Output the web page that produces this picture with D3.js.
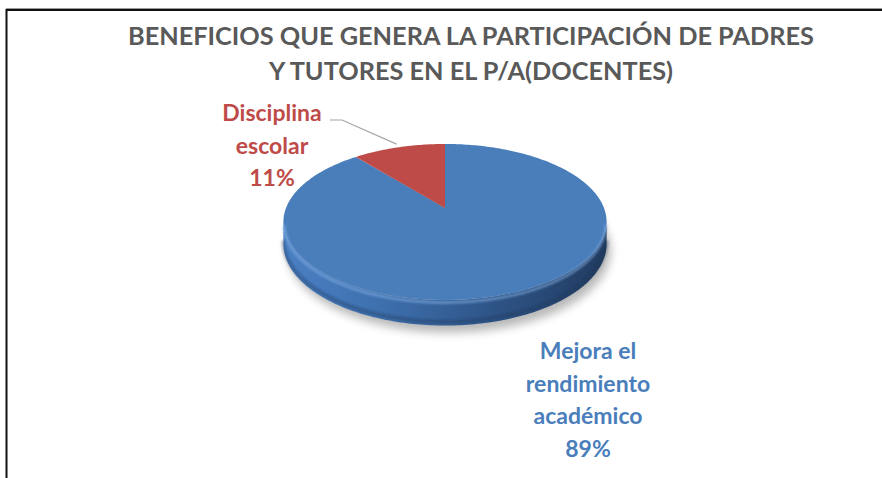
<!DOCTYPE html>
<html>
<head>
<meta charset="utf-8">
<script src="https://cdn.jsdelivr.net/npm/d3@7"></script>
<style>
  body { margin: 0; background: #fff; }
  svg { display: block; }
</style>
</head>
<body>
<svg width="882" height="478"></svg>
<script>
////////////////////////////// DATA //////////////////////////////

var titleLines = ['BENEFICIOS QUE GENERA LA PARTICIPACIÓN DE PADRES',
                  'Y TUTORES EN EL P/A(DOCENTES)'];
var categories = ['Mejora el rendimiento académico', 'Disciplina escolar'];
var values = [89, 11];
// label text, already broken into lines as in the picture
var labelLines = [['Mejora el', 'rendimiento', 'académico', '89%'],
                  ['Disciplina', 'escolar', '11%']];
var sliceColors = ['#4a7ebb', '#be4b48'];

////////////////////////////// VIS PARAMS //////////////////////////////

var svg = d3.select('svg'),
    width = +svg.attr('width'),
    height = +svg.attr('height');

// 3d pie: projected centre, half axes, perspective strength, depth
var pie3d = {cx: 445, cy: 208, A: 159, B: 75.5, p: 0.179, depth: 21};

var fontFam = 'Lato, "Open Sans", sans-serif';

// project an angle (d3 convention, clockwise from 12 o'clock) onto the screen
function proj(a, r, h) {
    var u = r * Math.sin(a), v = -r * Math.cos(a);
    var s = 1 / (1 - pie3d.p * v);
    return [pie3d.cx + pie3d.A * u * s, pie3d.cy + (pie3d.B * v + pie3d.depth * h) * s];
}

var line = d3.line();
var step = Math.PI / 180;

////////////////////////////// DEFS //////////////////////////////

var defs = svg.append('defs');
defs.append('filter').attr('id', 'shadowBlur')
    .attr('x', '-20%').attr('y', '-40%').attr('width', '140%').attr('height', '180%')
    .append('feGaussianBlur').attr('stdDeviation', 5);
defs.append('filter').attr('id', 'softBlur')
    .append('feGaussianBlur').attr('stdDeviation', 1.2);

var sideGrad = defs.append('linearGradient').attr('id', 'sideGrad')
    .attr('x1', 0).attr('x2', 1).attr('y1', 0).attr('y2', 0);
[['0', '#4a80c4'], ['0.3', '#3e70ae'], ['0.6', '#30588c'], ['1', '#213b60']].forEach(function(s) {
    sideGrad.append('stop').attr('offset', s[0]).attr('stop-color', s[1]);
});

////////////////////////////// FRAME + TITLE //////////////////////////////

svg.append('line').attr('x1', 6).attr('x2', width).attr('y1', 8.5).attr('y2', 8.5)
    .attr('stroke', '#9a9a9a').attr('stroke-width', 1);
svg.append('rect').attr('x', 6.5).attr('y', 10).attr('width', width + 10).attr('height', height + 10)
    .attr('fill', 'none').attr('stroke', '#111').attr('stroke-width', 2);

svg.append('g').attr('class', 'title')
    .selectAll('text').data(titleLines).enter().append('text')
    .attr('x', 471)
    .attr('y', function(d, i) { return 45 + i * 35; })
    .attr('text-anchor', 'middle')
    .attr('font-family', fontFam)
    .attr('font-weight', 'bold')
    .attr('font-size', 25.3)
    .attr('fill', '#595959')
    .text(function(d) { return d; });

////////////////////////////// PIE //////////////////////////////

var arcs = d3.pie().sort(null)(values);
var chart = svg.append('g').attr('class', 'pie');

// shadow under the disc
var ring = d3.range(0, 2 * Math.PI + step, step);
chart.append('path')
    .attr('d', line(ring.map(function(a) { return proj(a, 1.0, 1); })) + 'Z')
    .attr('transform', 'translate(4,7)')
    .attr('fill', '#000').attr('opacity', 0.28)
    .attr('filter', 'url(#shadowBlur)');

// visible side = front part of the rim
var a0 = Math.acos(-pie3d.p), a1 = 2 * Math.PI - a0;
arcs.forEach(function(d, i) {
    var s = Math.max(d.startAngle, a0), e = Math.min(d.endAngle, a1);
    if (e <= s) return;
    var angs = d3.range(s, e, step).concat([e]);
    var pts = angs.map(function(a) { return proj(a, 1, 0); })
        .concat(angs.slice().reverse().map(function(a) { return proj(a, 1, 1); }));
    chart.append('path').attr('d', line(pts) + 'Z')
        .attr('fill', i === 0 ? 'url(#sideGrad)' : d3.color(sliceColors[i]).darker(0.8));
    // darker bottom lip
    chart.append('path')
        .attr('d', line(angs.map(function(a) { return proj(a, 1, 0.85); })))
        .attr('fill', 'none').attr('stroke', '#1d3557').attr('stroke-opacity', 0.35)
        .attr('stroke-width', 4).attr('filter', 'url(#softBlur)');
});

// top faces
chart.selectAll('path.slice').data(arcs).enter().append('path')
    .attr('class', 'slice')
    .attr('d', function(d) {
        var angs = d3.range(d.startAngle, d.endAngle, step).concat([d.endAngle]);
        return line([proj(0, 0, 0)].concat(angs.map(function(a) { return proj(a, 1, 0); }))) + 'Z';
    })
    .attr('fill', function(d, i) { return sliceColors[i]; });

// bevel highlight along the front edge of the top face
var front = d3.range(a0, a1, step);
chart.append('path')
    .attr('d', line(front.map(function(a) { return proj(a, 0.995, 0.12); })))
    .attr('fill', 'none').attr('stroke', '#7eaae0').attr('stroke-opacity', 0.6)
    .attr('stroke-width', 3).attr('filter', 'url(#softBlur)');

////////////////////////////// LABELS //////////////////////////////

// label anchor (centre x, first baseline y) per slice
var labelPos = [[588, 359], [272, 121]];
var labels = svg.append('g').attr('class', 'labels');
arcs.forEach(function(d, i) {
    labels.append('g').selectAll('text').data(labelLines[i]).enter().append('text')
        .attr('x', labelPos[i][0])
        .attr('y', function(t, j) { return labelPos[i][1] + j * 32.5; })
        .attr('text-anchor', 'middle')
        .attr('font-family', fontFam)
        .attr('font-weight', 'bold')
        .attr('font-size', 23)
        .attr('fill', sliceColors[i])
        .text(function(t) { return t; });
});

// leader line for the small slice
var small = arcs[1];
var tip = proj((small.startAngle + small.endAngle) / 2, 1.06, 0);
svg.append('path')
    .attr('d', line([[330, 120], [342, 120], tip]))
    .attr('fill', 'none').attr('stroke', '#a6a6a6').attr('stroke-width', 1.2);
</script>
</body>
</html>
